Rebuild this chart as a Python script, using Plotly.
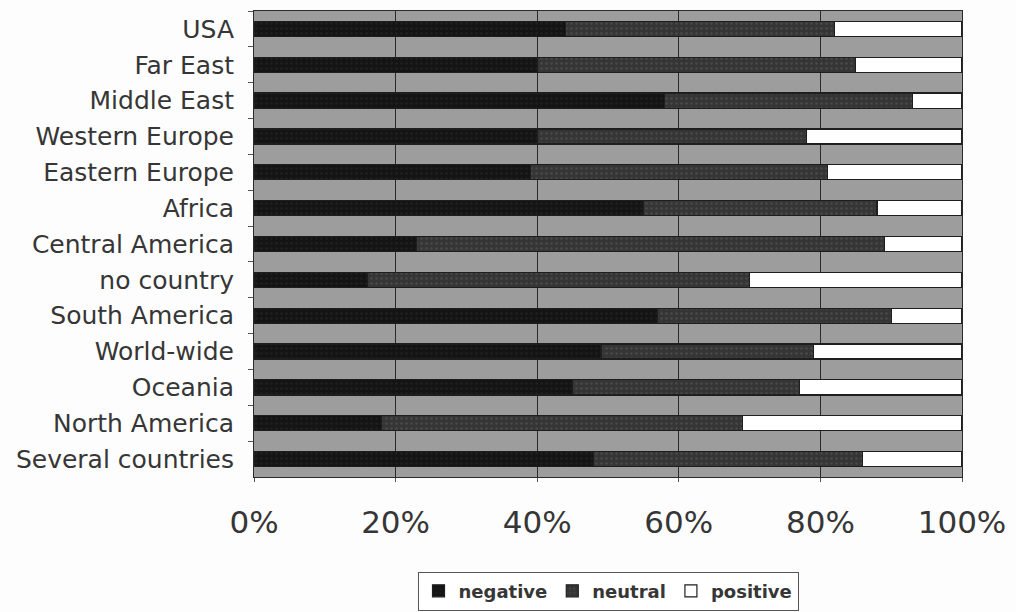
import plotly.graph_objects as go

# Share of coverage tone by region (percent of items per region)
regions = [
    "USA", "Far East", "Middle East", "Western Europe", "Eastern Europe",
    "Africa", "Central America", "no country", "South America",
    "World-wide", "Oceania", "North America", "Several countries",
]
negative = [44, 40, 58, 40, 39, 55, 23, 16, 57, 49, 45, 18, 48]
neutral = [38, 45, 35, 38, 42, 33, 66, 54, 33, 30, 32, 51, 38]
positive = [18, 15, 7, 22, 19, 12, 11, 30, 10, 21, 23, 31, 14]
x_ticks = [0, 20, 40, 60, 80, 100]

FONT = "DejaVu Sans, Verdana, sans-serif"
TEXT = "#363636"

fig = go.Figure()
series = [
    ("negative", negative, "#141414", dict(shape=".", fgcolor="#2c2c2c", size=5, solidity=0.2)),
    ("neutral", neutral, "#353535", dict(shape=".", fgcolor="#5e5e5e", size=5, solidity=0.2)),
    ("positive", positive, "#ffffff", None),
]
for name, vals, color, pattern in series:
    marker = dict(color=color, line=dict(color="#1e1e1e", width=1.2))
    if pattern:
        marker["pattern"] = pattern
    fig.add_trace(go.Bar(
        y=regions, x=vals, name=name, orientation="h", marker=marker,
    ))

fig.update_layout(
    barmode="stack",
    barnorm="percent",
    bargap=0.58,
    width=1016, height=612,
    margin=dict(l=254, r=51, t=10, b=135),
    paper_bgcolor="#fdfdfd",
    plot_bgcolor="#9d9d9d",
    font=dict(family=FONT, size=25, color=TEXT),
    showlegend=True,
    legend=dict(
        orientation="h", x=0.5, xanchor="center",
        yref="container", y=0.066, yanchor="top",
        bordercolor="#555555", borderwidth=1, bgcolor="#ffffff",
        font=dict(family="DejaVu Sans", size=18, color=TEXT, weight="bold"),
        traceorder="normal", itemwidth=30, tracegroupgap=0,
    ),
)
fig.update_xaxes(
    range=[0, 100], tickvals=x_ticks,
    ticktext=[f"{v}%" for v in x_ticks],
    showgrid=True, gridcolor="#2a2a2a", gridwidth=1,
    showline=True, linecolor="#2a2a2a", mirror=True, linewidth=1,
    ticks="outside", ticklen=4, tickcolor="#555555",
    ticklabelstandoff=14,
    zeroline=False, tickfont=dict(size=31, color=TEXT),
)
fig.update_yaxes(
    autorange="reversed", categoryorder="array", categoryarray=regions,
    showline=True, linecolor="#2a2a2a", mirror=True, linewidth=1,
    ticks="outside", ticklen=5, tickcolor="#555555", tickson="boundaries",
    ticklabelstandoff=14, showgrid=False,
    tickfont=dict(size=25, color=TEXT),
)

fig.write_html("out.html")
